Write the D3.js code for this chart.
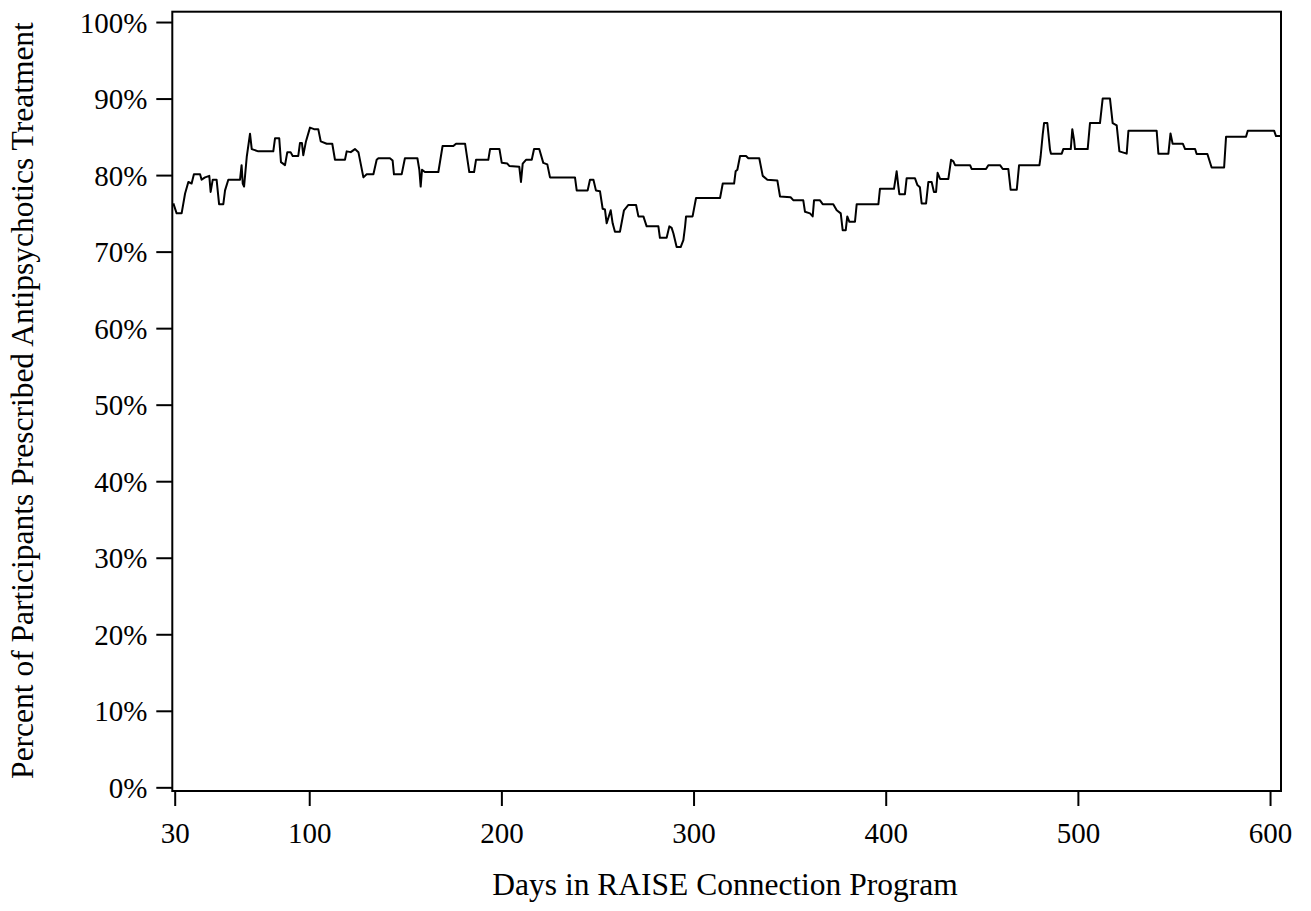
<!DOCTYPE html>
<html>
<head>
<meta charset="utf-8">
<script src="https://cdn.jsdelivr.net/npm/d3@7"></script>
<style>
  body { margin: 0; background: #fff; }
  text { font-family: "Liberation Serif", "Times New Roman", serif; fill: #000; }
</style>
</head>
<body>
<svg width="1311" height="911"></svg>
<script>
// days in program (x) and percent prescribed (y)
var days = [29.3, 31.0, 33.6, 35.4, 37.1, 38.8, 40.0, 43.2, 44.0, 45.8, 48.0, 48.7, 49.8, 51.8, 53.1, 55.3, 56.2, 57.9, 64.0, 64.8,
  65.4, 66.1, 67.5, 69.2, 70.1, 73.5, 81.3, 82.2, 84.4, 85.3, 87.4, 88.6, 90.3, 91.4, 94.3, 95.2, 96.2, 96.9, 98.3, 100.4,
  102.5, 104.7, 106.0, 109.1, 112.0, 113.4, 118.6, 119.5, 121.6, 123.8, 125.6, 128.2, 129.9, 133.4, 135.1, 136.0, 142.0, 143.4, 144.1, 148.1,
  149.8, 156.3, 157.3, 158.0, 158.7, 160.2, 167.2, 169.4, 175.0, 176.4, 181.1, 183.3, 185.8, 186.8, 193.2, 194.1, 199.0, 200.2, 203.1, 204.1,
  209.3, 210.2, 211.1, 212.8, 215.8, 217.0, 219.7, 221.8, 223.9, 225.3, 238.3, 239.2, 244.9, 246.1, 247.9, 249.2, 251.3, 252.7, 253.9, 254.8,
  256.9, 257.9, 259.1, 261.7, 263.8, 266.1, 270.1, 271.3, 273.9, 275.6, 281.7, 282.5, 286.0, 287.4, 288.6, 289.5, 291.2, 293.3, 294.7, 295.6,
  296.1, 299.5, 301.3, 313.8, 315.2, 321.1, 321.9, 322.8, 324.2, 327.3, 328.5, 334.2, 336.0, 338.4, 343.6, 345.0, 350.5, 352.0, 357.1, 358.0,
  360.6, 362.0, 362.7, 365.8, 367.2, 372.7, 374.5, 376.6, 377.6, 379.2, 380.0, 381.1, 384.0, 384.9, 396.2, 397.0, 404.3, 405.7, 406.6, 407.1,
  410.0, 410.9, 415.2, 416.5, 417.8, 418.7, 421.0, 422.2, 423.9, 425.1, 426.2, 427.0, 428.3, 432.6, 434.0, 435.2, 436.1, 443.9, 444.7, 452.2,
  453.4, 459.5, 460.9, 463.8, 465.0, 468.2, 469.4, 480.0, 480.6, 481.7, 482.4, 484.1, 485.5, 486.0, 491.6, 492.4, 496.3, 497.1, 498.0, 498.5,
  505.1, 506.3, 511.5, 512.9, 516.7, 518.1, 520.2, 521.6, 525.4, 526.3, 541.0, 541.9, 547.1, 548.2, 549.3, 554.6, 555.8, 561.0, 561.8, 567.4,
  569.6, 576.1, 577.1, 587.5, 588.4, 602.1, 603.1, 605.5];
var pct = [76.3, 75.0, 75.0, 77.6, 79.1, 78.9, 80.1, 80.1, 79.4, 79.7, 79.9, 77.8, 79.4, 79.4, 76.2, 76.2, 78.0, 79.4, 79.4, 81.3,
  78.9, 78.5, 82.4, 85.4, 83.4, 83.1, 83.1, 84.8, 84.8, 81.7, 81.3, 83.0, 83.0, 82.5, 82.5, 84.2, 84.2, 82.6, 84.4, 86.2,
  86.0, 86.0, 84.4, 84.1, 84.1, 82.0, 82.0, 83.1, 83.0, 83.4, 83.0, 79.7, 80.1, 80.1, 82.0, 82.2, 82.2, 81.9, 80.1, 80.1,
  82.2, 82.2, 80.7, 78.5, 80.7, 80.4, 80.4, 83.8, 83.8, 84.1, 84.1, 80.4, 80.4, 82.0, 82.0, 83.4, 83.4, 81.6, 81.5, 81.2,
  81.1, 79.1, 81.5, 82.0, 82.0, 83.4, 83.4, 81.6, 81.4, 79.7, 79.7, 78.0, 78.0, 79.4, 79.4, 78.0, 77.9, 75.6, 75.5, 73.7,
  75.4, 73.7, 72.6, 72.6, 75.4, 76.1, 76.1, 74.6, 74.6, 73.3, 73.3, 71.8, 71.8, 73.3, 73.1, 72.4, 70.6, 70.6, 71.5, 73.3,
  74.6, 74.6, 77.0, 77.0, 78.9, 78.9, 80.5, 80.7, 82.5, 82.5, 82.2, 82.2, 79.9, 79.4, 79.3, 77.2, 77.1, 76.7, 76.7, 75.2,
  75.0, 74.6, 76.7, 76.7, 76.2, 76.2, 75.4, 75.0, 72.8, 72.8, 74.6, 73.9, 73.9, 76.2, 76.2, 78.2, 78.2, 80.5, 78.5, 77.5,
  77.5, 79.6, 79.6, 78.7, 78.4, 76.3, 76.3, 79.1, 79.1, 77.8, 77.8, 80.3, 79.5, 79.5, 82.0, 81.8, 81.3, 81.3, 80.8, 80.8,
  81.3, 81.3, 80.8, 80.8, 78.1, 78.1, 81.3, 81.3, 82.4, 85.3, 86.8, 86.8, 83.3, 82.8, 82.8, 83.4, 83.4, 86.0, 84.6, 83.4,
  83.4, 86.8, 86.8, 90.0, 90.0, 86.8, 86.5, 83.1, 82.8, 85.8, 85.8, 82.8, 82.8, 85.45, 84.1, 84.1, 83.4, 83.4, 82.75, 82.75,
  81.0, 81.0, 85.0, 85.0, 85.8, 85.8, 85.1, 85.1];

var xTicks = [30, 100, 200, 300, 400, 500, 600];
var yTicks = [0, 10, 20, 30, 40, 50, 60, 70, 80, 90, 100];

var svg = d3.select("svg");

var plotLeft = 172.3, plotRight = 1281, plotTop = 11.7, plotBottom = 791;

var x = d3.scaleLinear().domain([28.75, 605.7]).range([plotLeft, plotRight]);
var y = d3.scaleLinear().domain([-0.48, 101.35]).range([plotBottom, plotTop]);

var points = days.map(function(d, i) { return [d, pct[i]]; });

// frame
svg.append("rect")
  .attr("x", plotLeft)
  .attr("y", plotTop)
  .attr("width", plotRight - plotLeft)
  .attr("height", plotBottom - plotTop)
  .attr("fill", "none")
  .attr("stroke", "#000")
  .attr("stroke-width", 2);

var xAxis = svg.append("g")
  .attr("transform", "translate(0," + plotBottom + ")")
  .call(d3.axisBottom(x).tickValues(xTicks).tickSize(15).tickFormat(d3.format("d")));
xAxis.select(".domain").remove();
xAxis.selectAll("line").attr("stroke-width", 2);
xAxis.selectAll("text")
  .attr("y", 52)
  .attr("dy", 0)
  .style("font-size", "29px")
  .style("font-family", "'Liberation Serif', 'Times New Roman', serif");

var yAxis = svg.append("g")
  .attr("transform", "translate(" + plotLeft + ",0)")
  .call(d3.axisLeft(y).tickValues(yTicks).tickSize(16).tickFormat(function(d) { return d + "%"; }));
yAxis.select(".domain").remove();
yAxis.selectAll("line").attr("stroke-width", 2);
yAxis.selectAll("text")
  .attr("x", -25)
  .attr("dy", "0.35em")
  .style("font-size", "29px")
  .style("font-family", "'Liberation Serif', 'Times New Roman', serif");

var line = d3.line()
  .x(function(d) { return x(d[0]); })
  .y(function(d) { return y(d[1]); });

svg.append("path")
  .datum(points)
  .attr("fill", "none")
  .attr("stroke", "#000")
  .attr("stroke-width", 2)
  .attr("stroke-linejoin", "round")
  .attr("d", line);

// axis titles
svg.append("text")
  .attr("x", 725)
  .attr("y", 895)
  .attr("text-anchor", "middle")
  .style("font-size", "31.5px")
  .text("Days in RAISE Connection Program");

svg.append("text")
  .attr("transform", "translate(33,400.5) rotate(-90)")
  .attr("text-anchor", "middle")
  .style("font-size", "31.5px")
  .text("Percent of Participants Prescribed Antipsychotics Treatment");
</script>
</body>
</html>
